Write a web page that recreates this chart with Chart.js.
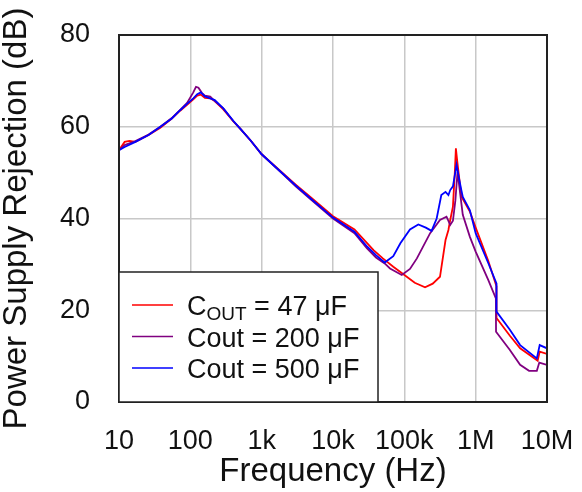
<!DOCTYPE html>
<html>
<head>
<meta charset="utf-8">
<script src="https://cdn.jsdelivr.net/npm/chart.js@4.4.1/dist/chart.umd.min.js"></script>
<style>
  html, body { margin: 0; padding: 0; background: #fff; }
  #wrap { width: 582px; height: 492px; }
</style>
</head>
<body>
<div id="wrap"><canvas id="psrrChart" width="582" height="492" role="img" aria-label="PSRR vs frequency"></canvas></div>
<script>
// frequency axis ticks (Hz) and their labels
const tickValues = [10, 100, 1e3, 1e4, 1e5, 1e6, 1e7];
const tickLabels = ['10', '100', '1k', '10k', '100k', '1M', '10M'];

// legend names ("_" marks the subscript part)
const seriesNames = ['C_OUT = 47 μF', 'Cout = 200 μF', 'Cout = 500 μF'];
const seriesColors = ['#ff0000', '#800080', '#0000ff'];

// COUT = 47 uF
const freq47 = [10, 12, 14, 17, 26, 38, 55, 72, 90, 110, 125, 140, 160, 190, 220, 290, 400, 500, 700,
  1e3, 2e3, 3e3, 5e3, 1e4, 2e4, 3.7e4, 5e4, 7e4, 9.6e4, 1.4e5, 1.95e5, 2.5e5, 3.16e5, 3.78e5, 4.15e5,
  4.35e5, 4.8e5, 5.1e5, 5.28e5, 5.5e5, 6.3e5, 8.3e5, 1e6, 1.5e6, 1.95e6, 1.96e6, 3e6, 4.2e6, 7.4e6, 7.9e6, 1e7];
const psrr47 = [54.9, 56.7, 56.9, 56.7, 58.2, 59.8, 61.8, 63.5, 64.8, 66.0, 66.8, 67.0, 66.3, 66.2, 65.6, 63.8, 61.2, 59.6, 57.0,
  54.0, 49.8, 47.4, 44.5, 40.5, 37.6, 33.1, 31.3, 29.5, 27.9, 26.0, 25.0, 25.8, 27.3, 35.3, 37.5,
  39.3, 42.6, 50.0, 55.3, 52.7, 44.8, 41.5, 38.0, 30.8, 25.3, 18.3, 14.5, 11.7, 9.0, 11.0, 10.5];

// Cout = 200 uF
const freq200 = [10, 12, 17, 26, 38, 55, 72, 90, 110, 120, 130, 145, 160, 190, 220, 290, 400, 500, 700,
  1e3, 2e3, 3e3, 5e3, 1e4, 2e4, 3e4, 4e4, 5.3e4, 6.3e4, 9.2e4, 1.2e5, 1.5e5, 2.3e5, 3.16e5, 3.9e5, 4.4e5,
  4.8e5, 5.2e5, 5.57e5, 6e5, 6.6e5, 8.3e5, 1e6, 1.5e6, 1.92e6, 1.93e6, 3e6, 4.2e6, 5.6e6, 7.2e6, 7.8e6, 1e7];
const psrr200 = [54.9, 56.0, 56.9, 58.3, 60.0, 61.9, 63.7, 65.2, 67.5, 68.7, 68.5, 67.4, 66.8, 66.6, 65.6, 64.0, 61.2, 59.6, 57.0,
  54.0, 49.6, 47.0, 44.0, 40.0, 36.8, 33.5, 31.5, 30.2, 29.1, 27.7, 29.0, 31.3, 36.8, 39.7, 40.4, 38.6,
  39.5, 44.0, 50.2, 46.0, 40.8, 36.0, 32.8, 26.6, 22.6, 15.3, 11.4, 8.1, 6.8, 6.8, 8.6, 8.1];

// Cout = 500 uF
const freq500 = [10, 12, 17, 26, 38, 55, 72, 90, 110, 125, 140, 160, 190, 220, 290, 400, 500, 700,
  1e3, 2e3, 3e3, 5e3, 1e4, 2e4, 3e4, 4e4, 5.3e4, 7e4, 8.8e4, 1.2e5, 1.57e5, 2e5, 2.41e5, 2.84e5, 3.3e5,
  3.78e5, 4.15e5, 4.4e5, 4.8e5, 5.4e5, 5.8e5, 6.3e5, 6.6e5, 8.3e5, 1e6, 1.5e6, 1.95e6, 1.96e6, 3e6, 4.2e6,
  7.2e6, 7.9e6, 1e7];
const psrr500 = [54.9, 55.6, 56.7, 58.2, 60.0, 61.8, 63.6, 65.0, 66.2, 67.1, 67.5, 66.6, 66.2, 65.8, 64.0, 61.3, 59.6, 57.0,
  54.0, 49.7, 47.2, 44.2, 40.2, 37.1, 33.9, 32.0, 30.4, 31.8, 34.6, 37.6, 38.7, 38.0, 37.3, 40.0, 45.1,
  45.8, 45.1, 46.2, 47.0, 51.7, 49.0, 46.2, 44.7, 41.8, 36.8, 30.3, 25.9, 19.7, 15.8, 12.4,
  9.5, 12.4, 11.7];

const FONT = "'Liberation Sans', Arial, sans-serif";

function toPoints(xs, ys) {
  return xs.map((x, i) => ({ x: x, y: ys[i] }));
}

// the plot area is placed by the layout padding only
function noOverflow(s) {
  s.paddingTop = 0; s.paddingBottom = 0; s.paddingLeft = 0; s.paddingRight = 0;
}

// frame around the plot area
const frameBox = {
  id: 'frameBox',
  afterDatasetsDraw(chart) {
    const a = chart.chartArea, ctx = chart.ctx;
    ctx.save();
    ctx.strokeStyle = '#222';
    ctx.lineWidth = 2;
    ctx.strokeRect(a.left, a.top, a.right - a.left, a.bottom - a.top);
    ctx.restore();
  }
};

// legend box in lower-left corner of the plot
const boxLegend = {
  id: 'boxLegend',
  afterDraw(chart) {
    const a = chart.chartArea, ctx = chart.ctx;
    const w = 259, h = 130;
    const x0 = a.left, y0 = a.bottom - h;
    ctx.save();
    ctx.fillStyle = '#fff';
    ctx.fillRect(x0, y0, w, h);
    ctx.strokeStyle = '#222';
    ctx.lineWidth = 1.5;
    ctx.strokeRect(x0, y0, w, h);
    ctx.textBaseline = 'alphabetic';
    ctx.fillStyle = '#111';
    chart.data.datasets.forEach((ds, i) => {
      const cy = y0 + 33 + i * 31.5;
      ctx.strokeStyle = ds.borderColor;
      ctx.lineWidth = 1.5;
      ctx.beginPath();
      ctx.moveTo(x0 + 13, cy);
      ctx.lineTo(x0 + 54, cy);
      ctx.stroke();
      const base = cy + 10;
      let tx = x0 + 68;
      const m = ds.label.match(/^(\w)_(\w+)(.*)$/);
      ctx.font = '27px ' + FONT;
      if (m) {
        ctx.fillText(m[1], tx, base);
        tx += ctx.measureText(m[1]).width;
        ctx.font = '19px ' + FONT;
        ctx.fillText(m[2], tx, base + 5);
        tx += ctx.measureText(m[2]).width;
        ctx.font = '27px ' + FONT;
        ctx.fillText(m[3], tx, base);
      } else {
        ctx.fillText(ds.label, tx, base);
      }
    });
    ctx.restore();
  }
};

const datasets = [
  { label: seriesNames[0], data: toPoints(freq47, psrr47), borderColor: seriesColors[0], order: 2 },
  { label: seriesNames[1], data: toPoints(freq200, psrr200), borderColor: seriesColors[1], order: 1 },
  { label: seriesNames[2], data: toPoints(freq500, psrr500), borderColor: seriesColors[2], order: 0 }
].map(d => Object.assign(d, { borderWidth: 1.8, pointRadius: 0, tension: 0, fill: false }));

new Chart(document.getElementById('psrrChart'), {
  type: 'line',
  data: { datasets: datasets },
  options: {
    responsive: false,
    animation: false,
    layout: { padding: { top: 35, right: 35, left: 0, bottom: 0 } },
    plugins: { legend: { display: false }, tooltip: { enabled: false } },
    scales: {
      x: {
        type: 'logarithmic',
        min: 10,
        max: 1e7,
        afterBuildTicks: (s) => { s.ticks = tickValues.map(v => ({ value: v })); },
        afterFit: (s) => { s.height = 90; noOverflow(s); },
        ticks: {
          autoSkip: false,
          maxRotation: 0,
          padding: 23,
          color: '#111',
          font: { family: FONT, size: 27 },
          callback: (v) => { const i = tickValues.indexOf(v); return i >= 0 ? tickLabels[i] : ''; }
        },
        grid: { color: '#c8c8c8', lineWidth: 1.5, drawTicks: false },
        border: { display: false },
        title: { display: true, text: 'Frequency (Hz)', color: '#111', font: { family: FONT, size: 33 }, padding: { top: 0, bottom: 0 } }
      },
      y: {
        min: 0,
        max: 80,
        afterFit: (s) => { s.width = 119; noOverflow(s); },
        ticks: {
          stepSize: 20,
          padding: 29,
          color: '#111',
          font: { family: FONT, size: 27 }
        },
        grid: { color: '#c8c8c8', lineWidth: 1.5, drawTicks: false },
        border: { display: false },
        title: { display: true, text: 'Power Supply Rejection (dB)', color: '#111', font: { family: FONT, size: 33 }, padding: { top: -3, bottom: 0 } }
      }
    }
  },
  plugins: [frameBox, boxLegend]
});
</script>
</body>
</html>
